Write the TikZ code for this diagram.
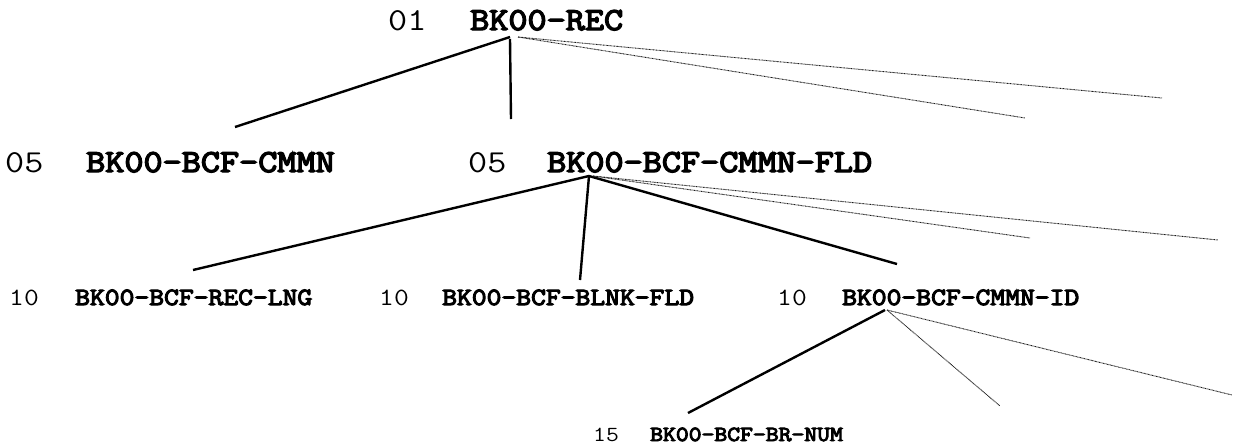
\documentclass[tikz,border=0pt]{standalone}
\usepackage{fontspec}
% typewriter face widened to Courier proportions
\newfontfamily\typewriter[FakeStretch=1.16]{Latin Modern Mono}
\newfontfamily\typewriterbold[FakeStretch=1.16, FakeBold=4.5]{Latin Modern Mono}
\begin{document}
\begin{tikzpicture}[x=1pt,y=-1pt,
  lvnum/.style={anchor=base west, inner sep=0pt, font=\fontsize{#1}{#1}\selectfont\typewriter},
  lvname/.style={anchor=base west, inner sep=0pt, font=\fontsize{#1}{#1}\selectfont\typewriterbold},
  branch/.style={line width=2.4pt, black},
  hidden/.style={line width=0.9pt, black!90, dash pattern=on 0.8pt off 0.6pt}]
\useasboundingbox (0,0) rectangle (1237,445);

% level 01
\node[lvnum=32]  (n01)  at (388,30) {01};
\node[lvname=32] (rec)  at (470,30) {BK00-REC};

% level 05
\node[lvnum=32]  (n05a) at (5,172)   {05};
\node[lvname=32] (cmmn) at (86,172)  {BK00-BCF-CMMN};
\node[lvnum=32]  (n05b) at (468,172) {05};
\node[lvname=32] (fld)  at (547,172) {BK00-BCF-CMMN-FLD};

% level 10
\node[lvnum=24.8]  (n10a) at (9,305)   {10};
\node[lvname=24.8] (lng)  at (75,305)  {BK00-BCF-REC-LNG};
\node[lvnum=24.8]  (n10b) at (379,305) {10};
\node[lvname=24.8] (blnk) at (442,305) {BK00-BCF-BLNK-FLD};
\node[lvnum=24.8]  (n10c) at (777,305) {10};
\node[lvname=24.8] (cid)  at (842,305) {BK00-BCF-CMMN-ID};

% level 15
\node[lvnum=21.5]  (n15) at (593,441) {15};
\node[lvname=21.5] (num) at (650,441) {BK00-BCF-BR-NUM};

% branch points
\coordinate (recjoin) at (510,37);
\coordinate (fldjoin) at (589,176);
\coordinate (cidjoin) at (885,310);

% child ends
\coordinate (cmmnend) at (235,127);
\coordinate (fldend)  at (511,119);
\coordinate (lngend)  at (193,270);
\coordinate (blnkend) at (580,280);
\coordinate (cidend)  at (897,264);
\coordinate (numend)  at (688,413);

% open ends of the hidden branches
\coordinate (rech1) at (1162,98);
\coordinate (rech2) at (1025,118);
\coordinate (fldh1) at (1218,240);
\coordinate (fldh2) at (1030,238);
\coordinate (cidh1) at (1232,395);
\coordinate (cidh2) at (1000,406);

\draw[branch] (recjoin) -- (cmmnend);
\draw[branch] (recjoin) ++(0,2) -- (fldend);
\draw[branch] (fldjoin) -- (lngend);
\draw[branch] (fldjoin) -- (blnkend);
\draw[branch] (fldjoin) -- (cidend);
\draw[branch] (cidjoin) -- (numend);

\draw[hidden] ([xshift=8pt]recjoin) -- (rech1);
\draw[hidden] ([xshift=8pt]recjoin) -- (rech2);
\draw[hidden] ([xshift=4pt]fldjoin) -- (fldh1);
\draw[hidden] ([xshift=4pt]fldjoin) -- (fldh2);
\draw[hidden] ([xshift=2pt]cidjoin) -- (cidh1);
\draw[hidden] ([xshift=2pt]cidjoin) -- (cidh2);
\end{tikzpicture}
\end{document}
